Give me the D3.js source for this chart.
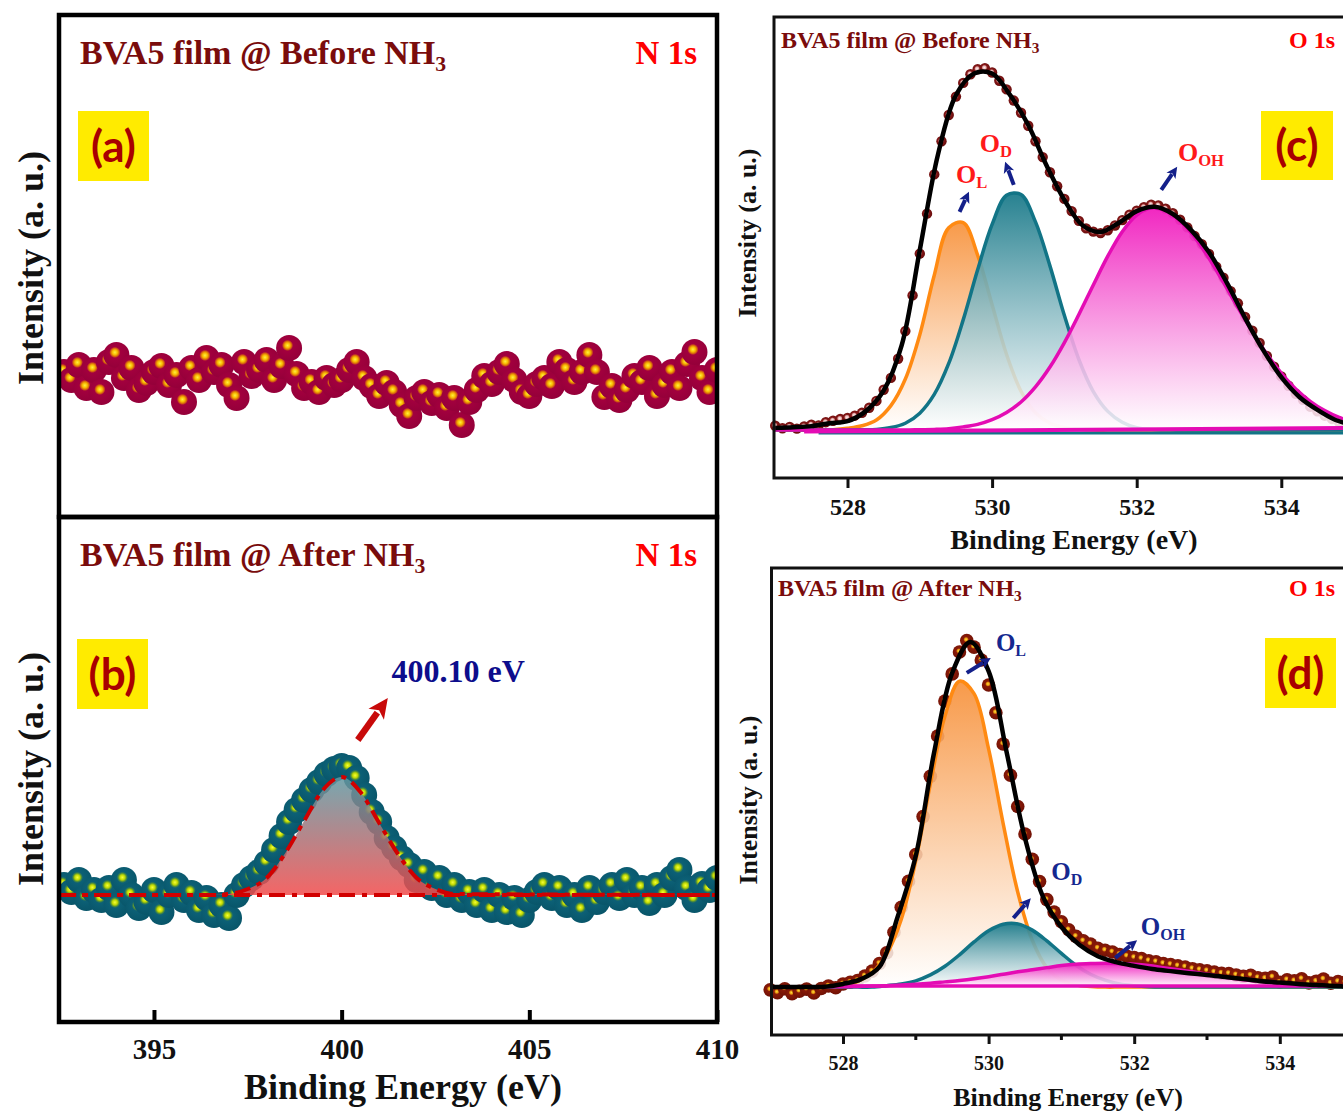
<!DOCTYPE html>
<html>
<head>
<meta charset="utf-8">
<script src="https://cdn.jsdelivr.net/npm/d3@7"></script>
<style>
body { margin: 0; background: #fff; }
svg text { font-family: "Liberation Serif", "Times New Roman", serif; font-weight: bold; }
</style>
</head>
<body>
<div id="chart"></div>
<script>
// ================= DATA =================
// N 1s spectra, 0.2 eV step (panels a, b)
const n1sEnergy = d3.range(88).map(i => Math.round((392.6 + 0.2 * i) * 10) / 10);
const n1sBefore = [145,137,152,129,147,125,155,162,139,149, 127,134,145,151,132,142,115,149,137,159,
  145,152,132,119,155,141,147,157,137,151, 169,143,129,135,125,139,132,137,147,155,
  139,131,121,134,125,112,101,119,125,114, 122,109,119,92,115,127,141,133,145,153,
  137,125,121,133,139,131,155,147,135,145, 162,145,120,131,117,127,141,135,149,121,
  132,145,129,153,165,139,125,147];
const n1sAfter = [137,130,142,124,132,122,134,117,142,127, 114,120,132,110,127,137,122,129,112,124,
  107,117,104,127,137,144,150,159,172,186, 200,212,222,232,240,248,253,256,254,244,
  227,210,200,184,174,164,157,142,150,134, 144,127,137,122,130,117,132,112,127,110,
  124,107,122,130,137,124,134,117,127,112, 134,120,130,137,124,142,127,134,119,137,
  127,144,152,134,122,138,132,144];
// fitted N 1s peak (b)
const n1sFitEnergy = [392.5,396.5,397.0,397.5,398.0,398.5,399.0,399.5,400.0,400.5,401.0,401.5,402.0,402.5,403.0,410.0];
const n1sFitValue  = [127,127,128,133,144,169,201,232,245,230,199,168,144,133,128,127];
const n1sBase = 127;
const n1sTicks = [395, 400, 405, 410];

// O 1s spectra (panels c, d)
const o1sDataEnergy = d3.range(81).map(i => Math.round((527 + 0.1 * i) * 10) / 10);
const o1sEnvEnergy  = d3.range(33).map(i => 527 + 0.25 * i);
const o1sCompEnergy = d3.range(41).map(i => Math.round((527 + 0.2 * i) * 10) / 10);
const o1sTicks = [528, 530, 532, 534];
const o1sMinor = [529, 531, 533];

const beforeData = [1.2,0.5,0.9,0.4,1.0,1.5,1.3,2.2,2.6,3.1, 3.4,4.0,4.8,6.2,8.1,11.2,14.5,19.8,27.5,37.4,
  49.0,60.1,71.0,80.2,87.5,92.6,96.4,98.8,100.2,100.5, 99.3,97.0,94.6,91.5,88.1,84.5,80.2,75.8,71.6,67.7,
  64.2,60.8,58.1,56.0,55.1,54.7,55.5,56.8,58.3,59.8, 60.9,61.9,62.6,62.4,61.5,60.2,58.4,56.3,53.9,51.6,
  48.9,45.4,42.3,38.6,35.2,31.4,27.6,24.2,20.6,17.6, 14.9,12.3,10.1,8.4,6.5,5.2,4.0,3.1,2.2,1.5, 0.9];
const beforeEnv = [0.6,0.8,1.1,1.9,2.5,5.2,11.0,23.6,50.0,76.4,93.0,99.0,99.0,93.0,84.7,73.6,63.9,
  56.9,55.0,57.5,60.8,62.0,60.0,55.6,49.4,40.8,31.1,22.2,14.7,9.2,5.6,2.8,1.4];
const beforeOL = [0,0,0,0,0.1,0.5,1.2,2.8,6.8,14.2,26.5,43.0,56.2,57.6,48.6,34.8,21.0,10.8,4.8,1.9,0.7,0.2,
  0,0,0,0,0,0,0,0,0,0,0,0,0,0,0,0,0,0,0];
const beforeOD = [0,0,0,0,0,0,0.1,0.2,0.7,1.9,4.7,9.9,18.5,30.6,44.5,57.1,65.2,65.4,57.8,45.6,31.8,19.6,
  10.7,5.2,2.2,0.7,0.2,0.1,0,0,0,0,0,0,0,0,0,0,0,0,0];
const beforeOH = [0,0,0,0,0,0,0,0,0,0,0.1,0.2,0.4,0.9,1.6,2.9,4.9,7.8,12.0,17.5,24.3,32.1,40.3,48.3,55.1,
  59.7,61.7,60.9,58.1,53.6,47.7,41.0,34.0,27.3,21.1,15.8,11.4,8.0,5.4,3.5,2.2];

const afterData = [-0.8,-1.6,-0.5,-1.9,-1.2,-0.6,-1.7,-0.4,0.3,-0.2, 0.9,1.4,1.9,3.2,4.6,6.8,9.9,15.8,23.0,30.5,
  38.2,49.1,60.7,72.3,82.4,90.2,96.5,99.8,97.9,94.2, 87.0,79.0,70.0,61.0,52.0,44.1,36.8,30.4,25.2,21.6,
  18.8,16.5,14.6,13.3,12.4,11.2,10.6,10.1,9.4,8.9, 8.5,8.2,7.6,7.3,6.8,6.5,6.1,5.8,5.3,5.0,
  4.7,4.3,4.0,3.9,3.5,3.1,3.4,2.7,2.5,2.9, 1.4,2.1,1.8,2.4,1.2,1.7,2.3,1.1,1.6,1.4, 0.9];
const afterEnv = [0,0,0,0.1,0.9,2.3,5.8,20.2,37.8,67.4,90.5,99.4,91.0,67.4,42.9,25.9,17.3,12.1,8.9,7.2,
  6.1,5.2,4.6,4.0,3.5,2.9,2.3,1.7,1.3,0.9,0.6,0.3,0.1];
const afterOL = [0,0,0,0,0.1,0.5,1.6,4.2,9.5,19.5,36.5,58.5,78.0,88.1,84.5,68.6,47.1,27.4,13.5,5.6,2.0,0.6,0.2,
  0,0,0,0,0,0,0,0,0,0,0,0,0,0,0,0,0,0];
const afterOD = [0,0,0,0,0,0,0,0,0.4,0.9,1.8,3.5,6.0,9.3,13.0,16.2,18.1,18.2,16.4,13.3,9.7,6.3,3.7,2.0,0.9,
  0.4,0.1,0,0,0,0,0,0,0,0,0,0,0,0,0,0];
const afterOH = [0,0,0,0,0.1,0.1,0.2,0.3,0.4,0.6,0.8,1.1,1.5,1.9,2.4,3.0,3.7,4.4,5.0,5.6,6.2,6.6,6.8,6.9,
  6.8,6.6,6.2,5.6,5.0,4.4,3.7,3.0,2.4,1.9,1.5,1.1,0.8,0.6,0.4,0.3,0.2];

// annotations (energy, intensity)
const cArrows = [[[529.55,60.6],[529.68,66.2]], [[530.30,68.1],[530.18,74.5]], [[532.34,66.7],[532.56,73.1]]];
const cLabels = [{e:529.50, v:68.6, sub:'L'}, {e:529.83, v:77.2, sub:'D'}, {e:532.57, v:74.7, sub:'OH'}];
const dArrows = [[[529.70,90.5],[530.03,94.8]], [[530.34,19.9],[530.58,25.6]], [[531.74,8.4],[532.04,13.5]]];
const dLabels = [{e:530.10, v:96.8, sub:'L'}, {e:530.86, v:30.8, sub:'D'}, {e:532.09, v:15.0, sub:'OH'}];

// ================= SETUP =================
const W = 1343, H = 1111;
const svg = d3.select('#chart').append('svg').attr('width', W).attr('height', H);
const defs = svg.append('defs');

// sphere-like markers
function ballGradient(id, stops, cx, cy, r) {
    const g = defs.append('radialGradient').attr('id', id)
        .attr('cx', cx).attr('cy', cy).attr('fx', cx).attr('fy', cy).attr('r', r);
    stops.forEach(s => g.append('stop').attr('offset', s[0]).attr('stop-color', s[1]));
}
ballGradient('ballA', [[0,'#fff040'],[0.15,'#f7b800'],[0.25,'#d46010'],[0.33,'#a2003e'],[1,'#930039']], 0.44, 0.4, 0.65);
ballGradient('ballB', [[0,'#f4ff3a'],[0.15,'#c0d800'],[0.25,'#4a8a3e'],[0.33,'#0c6076'],[1,'#085468']], 0.44, 0.4, 0.65);
ballGradient('ballC', [[0,'#fff4f4'],[0.28,'#e6b0b0'],[0.48,'#861818'],[1,'#640b0b']], 0.45, 0.45, 0.58);
ballGradient('ballD', [[0,'#ffe040'],[0.18,'#e89a10'],[0.32,'#8a1a08'],[1,'#6c1005']], 0.45, 0.42, 0.62);

function fadeGradient(id, top, topOp, bottom, bottomOp) {
    const g = defs.append('linearGradient').attr('id', id)
        .attr('x1', 0).attr('y1', 0).attr('x2', 0).attr('y2', 1);
    g.append('stop').attr('offset', 0).attr('stop-color', top).attr('stop-opacity', topOp);
    g.append('stop').attr('offset', 1).attr('stop-color', bottom).attr('stop-opacity', bottomOp);
}
fadeGradient('fillN', '#5e98a2', 0.85, '#f24a4a', 0.85);
fadeGradient('fillOL', '#f7913a', 0.92, '#ffffff', 0.85);
fadeGradient('fillOD', '#1c7b8b', 0.95, '#ffffff', 0.85);
fadeGradient('fillOH', '#f01cbe', 0.95, '#ffffff', 0.85);

// ================= HELPERS =================
function drawBalls(g, E, V, x, y, r, grad) {
    g.selectAll(null).data(E.map((e, i) => [e, V[i]])).enter()
        .append('circle')
        .attr('cx', d => x(d[0])).attr('cy', d => y(d[1]))
        .attr('r', r).attr('fill', `url(#${grad})`);
}

function drawComponent(g, E, V, x, y, color, fillId) {
    const pts = E.map((e, i) => [e, V[i]]);
    const area = d3.area().x(d => x(d[0])).y0(y(0)).y1(d => y(d[1])).curve(d3.curveCatmullRom);
    const line = d3.line().x(d => x(d[0])).y(d => y(d[1])).curve(d3.curveCatmullRom);
    g.append('path').datum(pts).attr('d', area).attr('fill', `url(#${fillId})`);
    g.append('path').datum(pts).attr('d', line).attr('fill', 'none')
        .attr('stroke', color).attr('stroke-width', 3.5);
}

function drawLine(g, E, V, x, y, color, w, curve) {
    g.append('path').datum(E.map((e, i) => [e, V[i]]))
        .attr('d', d3.line().x(d => x(d[0])).y(d => y(d[1])).curve(curve || d3.curveCatmullRom))
        .attr('fill', 'none').attr('stroke', color).attr('stroke-width', w);
}

function drawArrow(g, p1, p2, color, shaft, headL, headW) {
    const dx = p2[0] - p1[0], dy = p2[1] - p1[1];
    const len = Math.hypot(dx, dy), ux = dx / len, uy = dy / len;
    const bx = p2[0] - ux * headL, by = p2[1] - uy * headL;
    g.append('line').attr('x1', p1[0]).attr('y1', p1[1]).attr('x2', bx + ux * 2).attr('y2', by + uy * 2)
        .attr('stroke', color).attr('stroke-width', shaft);
    g.append('path')
        .attr('d', `M${p2[0]},${p2[1]}L${bx - uy * headW / 2},${by + ux * headW / 2}L${bx + ux * headL * 0.25},${by + uy * headL * 0.25}L${bx + uy * headW / 2},${by - ux * headW / 2}Z`)
        .attr('fill', color);
}

function subText(g, x, y, main, sub, size, color, anchor) {
    const t = g.append('text').attr('x', x).attr('y', y)
        .style('font-size', size + 'px').style('fill', color)
        .attr('text-anchor', anchor || 'start');
    t.append('tspan').text(main);
    t.append('tspan').text(sub).attr('dy', '0.3em').style('font-size', (size * 0.64) + 'px');
    return t;
}

function plainText(g, x, y, txt, size, color, anchor) {
    return g.append('text').attr('x', x).attr('y', y).text(txt)
        .style('font-size', size + 'px').style('fill', color)
        .attr('text-anchor', anchor || 'start');
}

function tagBox(g, x, y, w, h, label, size) {
    g.append('rect').attr('x', x).attr('y', y).attr('width', w).attr('height', h).attr('fill', '#ffeb00');
    g.append('text').attr('x', x + w / 2).attr('y', y + h / 2).attr('dy', '0.36em')
        .attr('text-anchor', 'middle').text(label)
        .style('font-family', 'Lato, "Open Sans", sans-serif').style('font-weight', 'bold')
        .style('font-size', size + 'px').style('fill', '#a80000');
}

function yTitle(g, x, y, size) {
    g.append('text').attr('transform', `translate(${x},${y}) rotate(-90)`)
        .attr('text-anchor', 'middle').attr('dy', '0.35em')
        .text('Intensity (a. u.)').style('font-size', size + 'px').style('fill', '#111');
}

// ================= N 1s : (a) and (b) =================
const xN = d3.scaleLinear().domain([392.47, 410]).range([59, 717]);
const yA = d3.scaleLinear().domain([0, 502]).range([517, 15]);
const yB = d3.scaleLinear().domain([0, 505]).range([1022, 517]);

const gA = svg.append('g');
drawBalls(gA, n1sEnergy, n1sBefore, xN, yA, 13, 'ballA');

const gB = svg.append('g');
drawBalls(gB, n1sEnergy, n1sAfter, xN, yB, 13, 'ballB');
const fitPts = n1sFitEnergy.map((e, i) => [e, n1sFitValue[i]]);
gB.append('path').datum(fitPts)
    .attr('d', d3.area().x(d => xN(d[0])).y0(yB(n1sBase)).y1(d => yB(d[1])).curve(d3.curveMonotoneX))
    .attr('fill', 'url(#fillN)');
gB.append('line').attr('x1', xN(392.47)).attr('x2', xN(410))
    .attr('y1', yB(n1sBase)).attr('y2', yB(n1sBase))
    .attr('stroke', '#d10000').attr('stroke-width', 4).attr('stroke-dasharray', '16,7,5,7');
gB.append('path').datum(fitPts)
    .attr('d', d3.line().x(d => xN(d[0])).y(d => yB(d[1])).curve(d3.curveMonotoneX))
    .attr('fill', 'none').attr('stroke', '#d10000').attr('stroke-width', 4)
    .attr('stroke-dasharray', '16,7,5,7');

// mask balls outside the N 1s frames
svg.append('rect').attr('x', 0).attr('y', 0).attr('width', 57).attr('height', 1040).attr('fill', '#fff');
svg.append('rect').attr('x', 719).attr('y', 0).attr('width', 50).attr('height', 1040).attr('fill', '#fff');

// frames
svg.append('rect').attr('x', 59).attr('y', 15).attr('width', 658).attr('height', 502)
    .attr('fill', 'none').attr('stroke', '#000').attr('stroke-width', 4.5);
svg.append('rect').attr('x', 59).attr('y', 517).attr('width', 658).attr('height', 505)
    .attr('fill', 'none').attr('stroke', '#000').attr('stroke-width', 4.5);

// bottom axis of (b)
const xAxisN = d3.axisBottom(xN).tickValues(n1sTicks).tickFormat(d3.format('d'))
    .tickSizeInner(-12).tickSizeOuter(0).tickPadding(16);
const axN = svg.append('g').attr('transform', 'translate(0,1022)').call(xAxisN);
axN.select('.domain').remove();
axN.selectAll('.tick line').attr('stroke', '#000').attr('stroke-width', 4);
axN.selectAll('.tick text').style('font-size', '29px').style('fill', '#111')
    .style('font-family', '"Liberation Serif", serif');
plainText(svg, 403, 1099, 'Binding Energy (eV)', 36, '#111', 'middle');
yTitle(svg, 30, 268, 36);
yTitle(svg, 30, 769, 36);

// texts (a)
subText(svg, 80, 64, 'BVA5 film @ Before NH', '3', 34, '#7a0c0c');
plainText(svg, 697, 64, 'N 1s', 33, '#ff0000', 'end');
tagBox(svg, 78, 111, 71, 70, '(a)', 44);
// texts (b)
subText(svg, 80, 566, 'BVA5 film @ After NH', '3', 34, '#7a0c0c');
plainText(svg, 697, 566, 'N 1s', 33, '#ff0000', 'end');
tagBox(svg, 77, 639, 71, 70, '(b)', 44);
drawArrow(svg, [xN(400.43), yB(282)], [xN(401.23), yB(324)], '#c80a0a', 6.5, 20, 19);
plainText(svg, xN(401.33), yB(340), '400.10 eV', 32, '#0d0d8c');

// ================= O 1s : (c) =================
const xC = d3.scaleLinear().domain([527, 535]).range([775.2, 1353.6]);
const yC = d3.scaleLinear().domain([-13.3, 114.7]).range([478, 17]);
const gC = svg.append('g');
drawBalls(gC, o1sDataEnergy, beforeData, xC, yC, 5.2, 'ballC');
drawComponent(gC, o1sCompEnergy, beforeOL, xC, yC, '#ff8a12', 'fillOL');
drawComponent(gC, o1sCompEnergy, beforeOD, xC, yC, '#127486', 'fillOD');
drawComponent(gC, o1sCompEnergy, beforeOH, xC, yC, '#e40cb4', 'fillOH');
drawLine(gC, [527.6, 535], [-0.8, -0.8], xC, yC, '#127486', 3, d3.curveLinear);
drawLine(gC, [527.4, 535], [-0.4, 0.6], xC, yC, '#e40cb4', 4, d3.curveLinear);
drawLine(gC, o1sEnvEnergy, beforeEnv, xC, yC, '#000', 4.5);
cArrows.forEach(a => drawArrow(gC, [xC(a[0][0]), yC(a[0][1])], [xC(a[1][0]), yC(a[1][1])], '#14208a', 4, 11, 11));
cLabels.forEach(l => subText(gC, xC(l.e), yC(l.v), 'O', l.sub, 26, '#ff1a1a'));

svg.append('rect').attr('x', 774).attr('y', 17).attr('width', 600).attr('height', 461)
    .attr('fill', 'none').attr('stroke', '#111').attr('stroke-width', 3);
const xAxisC = d3.axisBottom(xC).tickValues(o1sTicks).tickFormat(d3.format('d'))
    .tickSizeInner(10).tickSizeOuter(0).tickPadding(10);
const axC = svg.append('g').attr('transform', 'translate(0,478)').call(xAxisC);
axC.select('.domain').remove();
axC.selectAll('.tick line').attr('stroke', '#111').attr('stroke-width', 3);
axC.selectAll('.tick text').style('font-size', '24px').style('fill', '#111')
    .style('font-family', '"Liberation Serif", serif');
plainText(svg, 1074, 549, 'Binding Energy (eV)', 28, '#111', 'middle');
yTitle(svg, 747, 233, 26);
subText(svg, 781, 48, 'BVA5 film @ Before NH', '3', 24, '#7a0c0c');
plainText(svg, 1335, 48, 'O 1s', 24, '#ff0000', 'end');
tagBox(svg, 1261, 111, 72, 69, '(c)', 44);

// ================= O 1s : (d) =================
const xD = d3.scaleLinear().domain([527, 535]).range([770.2, 1352.6]);
const yD = d3.scaleLinear().domain([-13.8, 120.7]).range([1035, 568]);
const gD = svg.append('g');
drawBalls(gD, o1sDataEnergy, afterData, xD, yD, 6.8, 'ballD');
drawComponent(gD, o1sCompEnergy, afterOL, xD, yD, '#ff8a12', 'fillOL');
drawComponent(gD, o1sCompEnergy, afterOD, xD, yD, '#127486', 'fillOD');
drawComponent(gD, o1sCompEnergy, afterOH, xD, yD, '#e40cb4', 'fillOH');
drawLine(gD, [528.0, 535], [0.3, 0.3], xD, yD, '#e40cb4', 3.5, d3.curveLinear);
drawLine(gD, o1sEnvEnergy, afterEnv, xD, yD, '#000', 4.5);
dArrows.forEach(a => drawArrow(gD, [xD(a[0][0]), yD(a[0][1])], [xD(a[1][0]), yD(a[1][1])], '#14208a', 4, 11, 11));
dLabels.forEach(l => subText(gD, xD(l.e), yD(l.v), 'O', l.sub, 25, '#15288f'));

svg.append('rect').attr('x', 771.5).attr('y', 568).attr('width', 600).attr('height', 467)
    .attr('fill', 'none').attr('stroke', '#111').attr('stroke-width', 3);
const xAxisD = d3.axisBottom(xD).tickValues(o1sTicks).tickFormat(d3.format('d'))
    .tickSizeInner(9).tickSizeOuter(0).tickPadding(12);
const axD = svg.append('g').attr('transform', 'translate(0,1035)').call(xAxisD);
axD.select('.domain').remove();
axD.selectAll('.tick line').attr('stroke', '#111').attr('stroke-width', 3);
axD.selectAll('.tick text').style('font-size', '20px').style('fill', '#111')
    .style('font-family', '"Liberation Serif", serif');
svg.append('g').selectAll('line').data(o1sMinor).enter().append('line')
    .attr('x1', d => xD(d)).attr('x2', d => xD(d)).attr('y1', 1035).attr('y2', 1040)
    .attr('stroke', '#111').attr('stroke-width', 3);
plainText(svg, 1068, 1106, 'Binding Energy (eV)', 26, '#111', 'middle');
yTitle(svg, 748, 800, 26);
subText(svg, 778, 596, 'BVA5 film @ After NH', '3', 24, '#7a0c0c');
plainText(svg, 1335, 596, 'O 1s', 24, '#ff0000', 'end');
tagBox(svg, 1265, 638, 71, 70, '(d)', 44);
</script>
</body>
</html>
